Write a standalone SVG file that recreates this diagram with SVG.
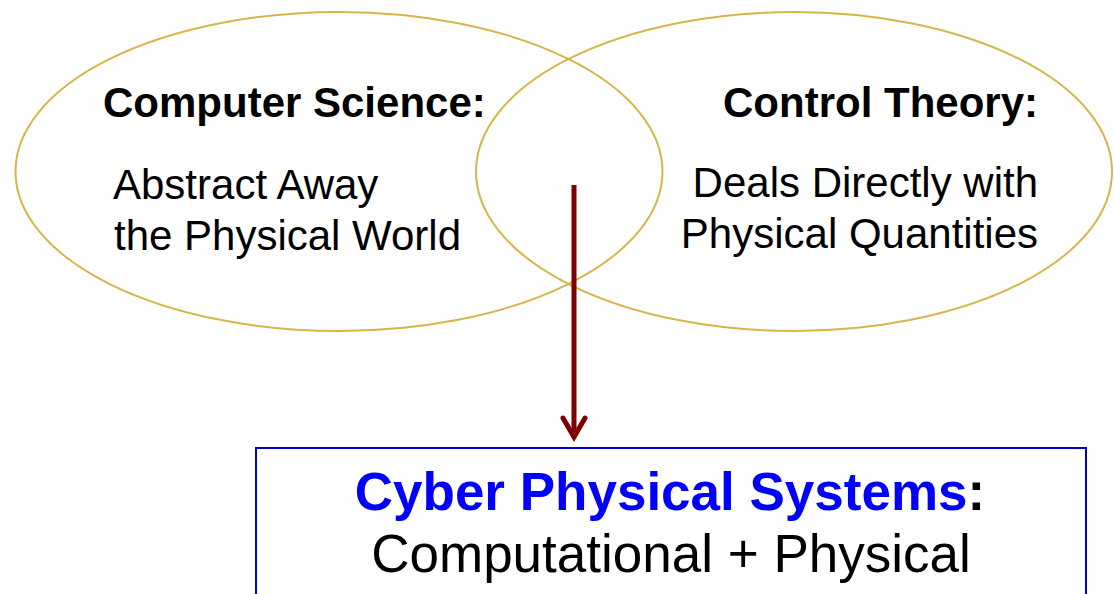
<svg xmlns="http://www.w3.org/2000/svg" width="1114" height="594" viewBox="0 0 1114 594">
  <style>
    .venn { fill: none; stroke: #D6B64C; stroke-width: 2; }
    .head { font-family: "Liberation Sans", Arial, sans-serif; font-weight: bold; font-size: 42px; fill: #000; }
    .body { font-family: "Liberation Sans", Arial, sans-serif; font-size: 42px; fill: #000; }
    .big { font-family: "Liberation Sans", Arial, sans-serif; font-size: 53px; fill: #000; }
    .bigb { font-family: "Liberation Sans", Arial, sans-serif; font-size: 53px; font-weight: bold; }
    .link { fill: none; stroke: #7F0000; stroke-width: 5; }
  </style>
  <rect width="1114" height="594" fill="#fff"/>

  <g id="computer-science">
    <ellipse class="venn" cx="339" cy="171.5" rx="323.5" ry="159.5"/>
    <text class="head" x="103" y="117">Computer Science:</text>
    <text class="body" x="113" y="199">Abstract Away</text>
    <text class="body" x="114" y="250">the Physical World</text>
  </g>

  <g id="control-theory">
    <ellipse class="venn" cx="794" cy="171.5" rx="318" ry="159.5"/>
    <text class="head" x="1038" y="117" text-anchor="end">Control Theory:</text>
    <text class="body" x="1038" y="197" text-anchor="end">Deals Directly with</text>
    <text class="body" x="1038" y="248" text-anchor="end">Physical Quantities</text>
  </g>

  <g id="connectors">
    <line class="link" x1="574" y1="185" x2="574" y2="436"/>
    <path class="link" d="M563,418 L574,437 L585,418" stroke-linecap="round" stroke-linejoin="miter"/>
  </g>

  <g id="cyber-physical-systems">
    <rect x="256" y="448" width="830" height="160" fill="none" stroke="#0000CC" stroke-width="2"/>
    <text class="bigb" x="670" y="510" text-anchor="middle"><tspan fill="#0000FF">Cyber Physical Systems</tspan><tspan fill="#000">:</tspan></text>
    <text class="big" x="671" y="572" text-anchor="middle">Computational + Physical</text>
  </g>
</svg>
